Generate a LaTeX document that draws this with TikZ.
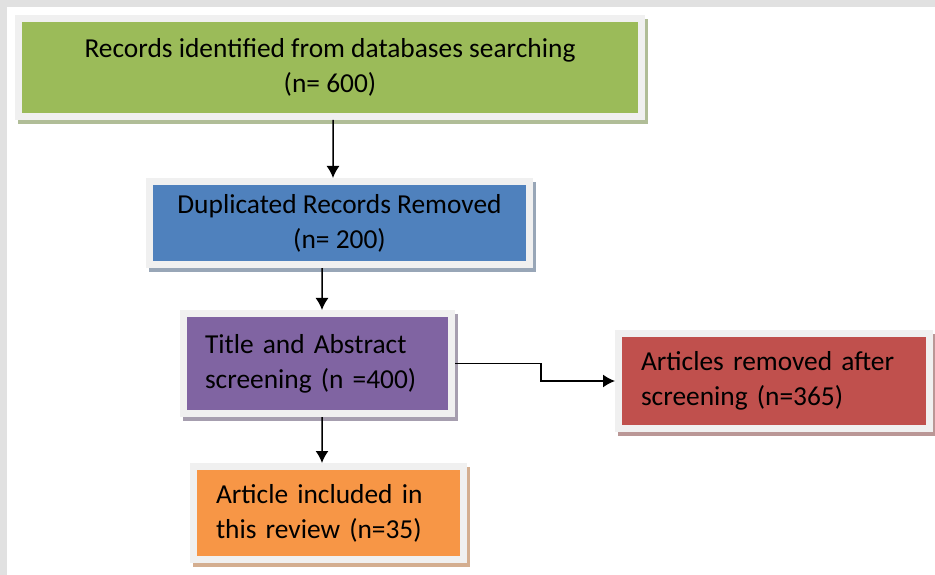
\documentclass[tikz,border=0pt]{standalone}
\usepackage{fontspec}
\setmainfont{Carlito}
\usepackage{tikz}
\usetikzlibrary{shapes,positioning,calc}
\usetikzlibrary{arrows.meta}
\usetikzlibrary{shadows}
\definecolor{verde}{HTML}{9BBB59}
\definecolor{blu}{HTML}{4F81BD}
\definecolor{viola}{HTML}{8064A2}
\definecolor{rosso}{HTML}{C0504D}
\definecolor{arancio}{HTML}{F79646}
\definecolor{cornice}{HTML}{F0F0F0}
\definecolor{sfondo}{HTML}{E1E1E1}
\tikzstyle{fase} = [rectangle, draw=cornice, line width=7bp, inner sep=0pt,
font=\fontsize{27.5}{35}\selectfont]
\tikzstyle{ombra} = [general shadow={shadow xshift=3bp, shadow yshift=-4bp, draw=#1, fill=#1, line width=7bp}]
\tikzstyle{arrow} = [line width=1.5bp,-{Latex[length=12bp,width=13bp]}]

\begin{document}
\begin{tikzpicture}[x=1bp, y=-1bp]
					\useasboundingbox (0,0) rectangle (935,575);
					\clip (0,0) rectangle (935,575);
					\fill[sfondo] (0,0) rectangle (935,575);
					\fill[white] (7,7) rectangle (935,575);
					\node (rec) at (330,67.5) [fase, fill=verde, ombra={verde!55!gray!70}, minimum width=623bp, minimum height=98bp, align=center] {Records identified from databases searching\\(n= 600)};
					\node (dup) at (339.5,223) [fase, fill=blu, ombra={blu!40!gray!70}, minimum width=380bp, minimum height=83bp, align=center] {Duplicated Records Removed\\(n= 200)};
					\node (tit) at (317.5,363.5) [fase, fill=viola, ombra={viola!40!gray!70}, minimum width=268bp, minimum height=100bp, text width=225bp, align=left] {Title and Abstract\\screening (n =400)};
					\node (rem) at (774,381) [fase, fill=rosso, ombra={rosso!45!gray!70}, minimum width=311bp, minimum height=95bp, text width=266bp, align=left] {Articles removed after\\screening (n=365)};
					\node (inc) at (328.5,513) [fase, fill=arancio, ombra={arancio!55!gray!70}, minimum width=270bp, minimum height=93bp, text width=225bp, align=left] {Article included in\\this review (n=35)};
					\draw[arrow] ([xshift=3bp]rec.south) -- ([xshift=-6.5bp]dup.north);
					\draw[arrow] ([xshift=-17.5bp]dup.south) -- ([xshift=4.5bp]tit.north);
					\draw[arrow] ([xshift=4.5bp]tit.south) -- ([xshift=-6.5bp]inc.north);
					\draw[arrow] (tit.east) -- ++(86,0) |- (rem.west);
				\end{tikzpicture}
\end{document}
